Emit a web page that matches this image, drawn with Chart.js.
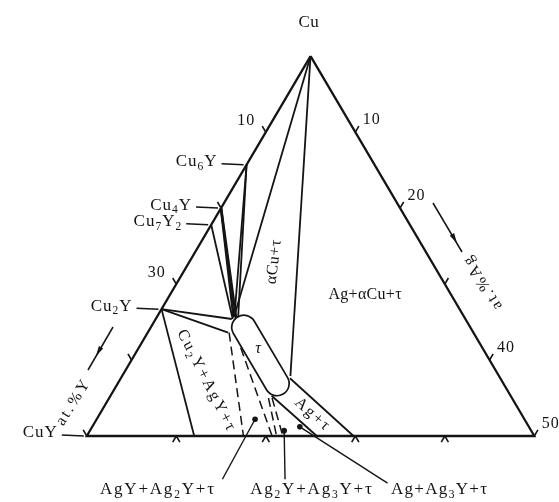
<!DOCTYPE html>
<html>
<head>
<meta charset="utf-8">
<script src="https://cdn.jsdelivr.net/npm/chart.js@4.4.1/dist/chart.umd.min.js"></script>
<style>
  html, body { margin: 0; padding: 0; background: #fff; }
  canvas { display: block; }
</style>
</head>
<body>
<canvas id="diagrama" width="559" height="502"></canvas>
<script>
// composiciones en at.% (Ag, Y); Cu = 100 - Ag - Y
const edgeTicks = [10, 20, 30, 40, 50]
const baseTicks = [10, 20, 30, 40]
const leftTickLabels = ['10', '', '30', '', '']
const rightTickLabels = ['10', '20', '', '40', '50']

const phaseNames = ['Cu_6Y', 'Cu_4Y', 'Cu_7Y_2', 'Cu_2Y', 'CuY']
const phaseY = [14.3, 20.0, 22.2, 33.3, 50]

// fase tau (eje de la region alargada)
const tauAg = [10.4, 17.8]
const tauY = [25.3, 25.3]

// conodas [Ag1, Y1, Ag2, Y2]
const solidTies = [
  [0, 0, 8.6, 25.7],
  [0, 0, 18.8, 23.3],
  [0, 14.3, 8.6, 25.6],
  [0, 14.3, 9.2, 25.4],
  [0, 20.0, 8.6, 25.8],
  [0, 20.0, 9.0, 25.6],
  [0, 22.2, 8.6, 26.0],
  [0, 33.3, 8.5, 26.1],
  [0, 33.3, 9.0, 27.4],
  [0, 33.3, 12.0, 38.0],
  [18.9, 23.5, 29.8, 20.2],
  [18.0, 26.7, 25.7, 24.3]
]
const dashedTies = [
  [9.1, 27.3, 17.5, 32.5],
  [11.4, 27.0, 20.7, 29.3],
  [17.8, 27.2, 21.2, 28.8],
  [18.2, 26.8, 21.9, 28.1]
]
const pointerLines = [
  [18.0, 37.7, 17.7, 30.1],
  [25.0, 30.7, 21.7, 27.6],
  [36.7, 19.5, 23.2, 25.6]
]
const pointerNames = ['AgY+Ag_2Y+τ', 'Ag_2Y+Ag_3Y+τ', 'Ag+Ag_3Y+τ']
const regionNames = ['αCu+τ', 'Ag+αCu+τ', 'Cu_2Y+AgY+τ', 'Ag+τ', 'τ']

// --- dibujo ---
const SQ = Math.sqrt(3) / 2
const pt = (ag, y) => ({ x: (ag - y) / 2, y: (50 - ag - y) * SQ })
const ink = '#141414'
const serif = '"Liberation Serif", "Times New Roman", serif'

const datasets = []
const seg = (a1, y1, a2, y2, w, dash) => datasets.push({
  data: [pt(a1, y1), pt(a2, y2)], showLine: true, borderColor: ink,
  borderWidth: w, borderDash: dash || [], pointRadius: 0, order: 5
})

// triangulo
datasets.push({
  data: [pt(0, 0), pt(0, 50), pt(50, 0), pt(0, 0)], showLine: true,
  borderColor: ink, borderWidth: 2.3, pointRadius: 0, borderJoinStyle: 'miter', order: 4
})
// marcas
edgeTicks.forEach(t => {
  seg(0, t, -0.8, t, 1.6)
  seg(t, 0, t, -0.8, 1.6)
})
baseTicks.forEach(t => {
  seg(t, 50 - t, t + 0.8, 50 - t, 1.6)
  seg(t, 50 - t, t, 50.8 - t, 1.6)
})
solidTies.forEach((c, i) => seg(c[0], c[1], c[2], c[3], (i >= 4 && i <= 5) ? 2.6 : 1.8))
dashedTies.forEach(c => seg(c[0], c[1], c[2], c[3], 1.5, [9, 5]))
pointerLines.forEach(c => datasets.push({
  data: [pt(c[0], c[1]), pt(c[2], c[3])], showLine: true, borderColor: ink,
  borderWidth: 1.4, pointRadius: [0, 2.8], pointBackgroundColor: ink,
  pointBorderWidth: 0, order: 0
}))
// region tau
const tauLine = [pt(tauAg[0], tauY[0]), pt(tauAg[1], tauY[1])]
datasets.push({ data: tauLine, showLine: true, borderColor: '#fff', borderWidth: 22.6,
  borderCapStyle: 'round', pointRadius: 0, order: 1 })
datasets.push({ data: tauLine, showLine: true, borderColor: ink, borderWidth: 26,
  borderCapStyle: 'round', pointRadius: 0, order: 2 })

function texto(ctx, str, x, y, size, rot, align, gap, italic) {
  const parts = []
  for (let i = 0; i < str.length; i++) {
    if (str[i] === '_') { parts.push({ t: str[i + 1], sub: true }); i++ }
    else parts.push({ t: str[i], sub: false })
  }
  const f = p => (italic ? 'italic ' : '') + (p.sub ? size * 0.68 : size) + 'px ' + serif
  let w = 0
  parts.forEach(p => { ctx.font = f(p); p.w = ctx.measureText(p.t).width + (gap || 0); w += p.w })
  w -= gap || 0
  ctx.save()
  ctx.translate(x, y)
  ctx.rotate((rot || 0) * Math.PI / 180)
  ctx.fillStyle = ink
  ctx.textAlign = 'left'
  ctx.textBaseline = 'middle'
  let cx = align === 'right' ? -w : align === 'left' ? 0 : -w / 2
  parts.forEach(p => {
    ctx.font = f(p)
    ctx.fillText(p.t, cx, p.sub ? size * 0.3 : 0)
    cx += p.w
  })
  ctx.restore()
}

function flecha(ctx, x1, y1, x2, y2, hx, hy) {
  ctx.save()
  ctx.strokeStyle = ink
  ctx.fillStyle = ink
  ctx.lineWidth = 1.5
  ctx.beginPath(); ctx.moveTo(x1, y1); ctx.lineTo(x2, y2); ctx.stroke()
  const a = Math.atan2(y2 - y1, x2 - x1)
  ctx.beginPath()
  ctx.moveTo(hx, hy)
  ctx.lineTo(hx - 10 * Math.cos(a) - 2.5 * Math.sin(a), hy - 10 * Math.sin(a) + 2.5 * Math.cos(a))
  ctx.lineTo(hx - 10 * Math.cos(a) + 2.5 * Math.sin(a), hy - 10 * Math.sin(a) - 2.5 * Math.cos(a))
  ctx.closePath(); ctx.fill()
  ctx.restore()
}

const rotulos = {
  id: 'rotulos',
  afterDatasetsDraw(chart) {
    const ctx = chart.ctx
    const px = (ag, y) => {
      const p = pt(ag, y)
      return [chart.scales.x.getPixelForValue(p.x), chart.scales.y.getPixelForValue(p.y)]
    }
    // vertice Cu
    const top = px(0, 0)
    texto(ctx, 'Cu', top[0] - 2, top[1] - 34, 17, 0, 'center', 0.5)
    // fases sobre el lado Cu-CuY
    phaseNames.forEach((n, i) => {
      const p = px(0, phaseY[i])
      ctx.save(); ctx.strokeStyle = ink; ctx.lineWidth = 1.5
      ctx.beginPath(); ctx.moveTo(p[0] - 25, p[1] - 1); ctx.lineTo(p[0] - 3, p[1]); ctx.stroke()
      ctx.restore()
      texto(ctx, n, p[0] - 30, p[1] - 3, 17, 0, 'right', 1)
    })
    // numeros de los ejes
    edgeTicks.forEach((t, i) => {
      if (leftTickLabels[i]) {
        const p = px(0, t)
        texto(ctx, leftTickLabels[i], p[0] - 20, p[1] - 11, 16, 0, 'center', 1)
      }
      if (rightTickLabels[i]) {
        const p = px(t, 0)
        texto(ctx, rightTickLabels[i], p[0] + 16, p[1] - 12, 16, 0, 'center', 1)
      }
    })
    // regiones
    texto(ctx, regionNames[0], 274, 262, 16, -83, 'center', 0.5)
    texto(ctx, regionNames[1], 365, 295, 16, 0, 'center', 0.3)
    texto(ctx, regionNames[2], 206, 380, 16, 63, 'center', 2.2)
    texto(ctx, regionNames[3], 312, 414, 16, 42, 'center', 2)
    texto(ctx, regionNames[4], 258, 349, 16, 0, 'center', 0, true)
    // rotulos con indicador
    texto(ctx, pointerNames[0], 157, 490, 17, 0, 'center', 1.8)
    texto(ctx, pointerNames[1], 311, 490, 17, 0, 'center', 1.8)
    texto(ctx, pointerNames[2], 439, 490, 17, 0, 'center', 1.3)
    // ejes at.%
    texto(ctx, 'at.%Y', 73, 403, 16, -58, 'center', 2.5)
    texto(ctx, 'at.%Ag', 483, 283, 16, -122, 'center', 2.3)
    flecha(ctx, 113, 327, 88, 370, 96, 356)
    flecha(ctx, 433, 203, 462, 252, 457, 243)
  }
}

new Chart(document.getElementById('diagrama'), {
  type: 'scatter',
  data: { datasets },
  options: {
    responsive: false,
    animation: false,
    events: [],
    layout: { padding: 0 },
    plugins: { legend: { display: false }, tooltip: { enabled: false } },
    scales: {
      x: { type: 'linear', min: -34.25, max: 27.31, display: false },
      y: { type: 'linear', min: -7.07, max: 49.25, display: false }
    }
  },
  plugins: [rotulos]
})
</script>
</body>
</html>
